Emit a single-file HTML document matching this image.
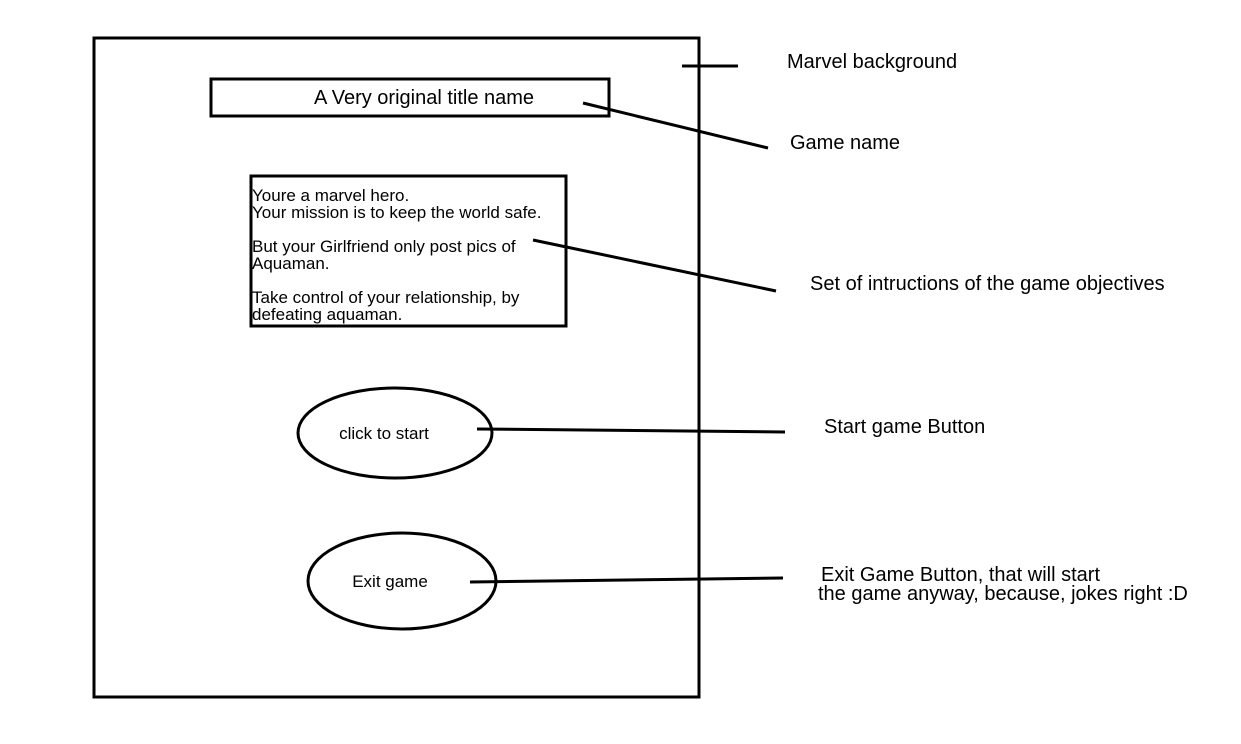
<!DOCTYPE html>
<html><head><meta charset="utf-8"><style>
html,body{margin:0;padding:0;background:#fff;}
svg{display:block;}
text{font-family:"Liberation Sans",Arial,sans-serif;fill:#000;}
</style></head><body>
<svg width="1241" height="744" viewBox="0 0 1241 744" xmlns="http://www.w3.org/2000/svg">
<rect x="0" y="0" width="1241" height="744" fill="#fff"/>
<g fill="none" stroke="#000" stroke-width="3">
<rect x="94" y="38" width="605" height="659"/>
<rect x="211" y="79" width="398" height="37"/>
<rect x="251" y="176" width="315" height="150"/>
<ellipse cx="395" cy="433" rx="97" ry="45"/>
<ellipse cx="402" cy="581" rx="94" ry="48"/>
<line x1="682" y1="66" x2="738" y2="66"/>
<line x1="583" y1="103" x2="768" y2="148"/>
<line x1="533" y1="240" x2="776" y2="291"/>
<line x1="477" y1="429" x2="785" y2="432"/>
<line x1="470" y1="582" x2="783" y2="578"/>
</g>
<text x="424" y="104" font-size="20" text-anchor="middle">A Very original title name</text>
<g font-size="17">
<text x="252" y="201">Youre a marvel hero.</text>
<text x="252" y="218">Your mission is to keep the world safe.</text>
<text x="252" y="252">But your Girlfriend only post pics of</text>
<text x="252" y="269">Aquaman.</text>
<text x="252" y="303">Take control of your relationship, by</text>
<text x="252" y="320">defeating aquaman.</text>
<text x="384" y="439" text-anchor="middle">click to start</text>
<text x="390" y="587" text-anchor="middle">Exit game</text>
</g>
<g font-size="20">
<text x="787" y="68">Marvel background</text>
<text x="790" y="149">Game name</text>
<text x="810" y="290">Set of intructions of the game objectives</text>
<text x="824" y="433">Start game Button</text>
<text x="821" y="581">Exit Game Button, that will start</text>
<text x="818" y="600">the game anyway, because, jokes right :D</text>
</g>
</svg>
</body></html>
